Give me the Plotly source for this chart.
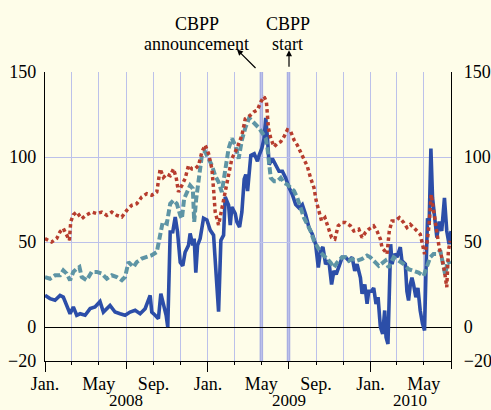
import numpy as np
import pandas as pd
import plotly.graph_objects as go

# ---- data: months elapsed since 1 Jan 2008, and spread values ----
blue_t = [0.00, 0.37, 0.74, 1.11, 1.35, 1.60, 1.85, 2.09, 2.34, 2.59, 2.96, 3.33, 3.69, 4.06, 4.31,
          4.80, 5.17, 5.54, 5.91, 6.28, 6.65, 7.02, 7.39, 7.76, 7.88, 8.13, 8.37, 8.55, 8.74, 8.94,
          9.06, 9.24, 9.43, 9.61, 9.78, 9.98, 10.17, 10.34, 10.59, 10.71, 10.91, 11.01, 11.13, 11.26,
          11.45, 11.70, 11.95, 12.19, 12.44, 12.64, 12.81, 12.98, 13.18, 13.30, 13.55, 13.67, 13.79,
          14.04, 14.16, 14.36, 14.53, 14.70, 14.82, 14.95, 15.19, 15.44, 15.68, 15.80, 16.00, 16.17,
          16.29, 16.42, 16.54, 16.78, 17.03, 17.27, 17.52, 17.76, 18.01, 18.25, 18.50, 18.75, 18.99,
          19.24, 19.48, 19.73, 19.97, 20.17, 20.34, 20.51, 20.71, 20.95, 21.15, 21.32, 21.49, 21.69,
          21.93, 22.18, 22.42, 22.67, 22.86, 23.03, 23.28, 23.40, 23.60, 23.77, 23.89, 24.09, 24.26,
          24.43, 24.58, 24.75, 24.92, 25.07, 25.17, 25.31, 25.41, 25.51, 25.61, 25.80, 25.98, 26.22,
          26.34, 26.59, 26.71, 26.83, 26.96, 27.08, 27.20, 27.37, 27.52, 27.69, 27.86, 28.01, 28.11,
          28.23, 28.35, 28.48, 28.60, 28.75, 28.92, 29.09, 29.28, 29.48, 29.65, 29.82, 29.97]
blue_v = [18.6, 16.7, 15.7, 18.6, 17.6, 12.7, 7.8, 11.8, 6.9, 7.8, 6.9, 10.8, 11.8, 15.0, 8.8,
          12.7, 8.8, 7.8, 6.9, 8.8, 9.8, 7.8, 10.8, 18.6, 8.8, 6.9, 4.9, 19.6, 12.7, 6.9,
          0.0, 55.9, 56.0, 64.7, 56.0, 38.0, 36.0, 44.0, 48.0, 55.0, 48.0, 52.0, 32.0, 48.0,
          52.0, 64.0, 63.0, 57.0, 54.0, 32.0, 9.0, 51.0, 54.0, 76.5, 71.6, 60.0, 70.6,
          66.7, 61.8, 58.8, 67.6, 87.0, 89.7, 80.0, 101, 102, 97.5, 101, 105, 111,
          123, 111, 95.5, 99, 95.5, 91.6, 91.6, 87.7, 82, 78, 72, 70, 72,
          66, 58.5, 54.6, 48.7, 35, 45, 47, 37, 39, 25, 33, 31, 35,
          41, 41, 39, 41, 33, 37, 29, 19.5, 25, 13.6, 21, 21, 23,
          13.6, 17.5, 0, -4, 9.7, -6, -10, 31, 48.7, 37, 43, 41, 47,
          39, 37, 21, 15.6, 25, 29, 25, 17.5, 23, 9.7, 2, -2, 31,
          64, 60, 105, 76, 64, 52.6, 62, 56.5, 76, 56.5, 48.7, 56.5]

teal_t = [0.00, 0.37, 0.74, 1.11, 1.35, 1.60, 1.85, 2.09, 2.34, 2.54, 2.71, 3.08, 3.45, 3.82, 4.19,
          4.56, 4.93, 5.30, 5.67, 5.91, 6.16, 6.53, 6.77, 7.14, 7.51, 7.88, 8.25, 8.50, 8.69, 8.99,
          9.24, 9.48, 9.73, 9.98, 10.10, 10.27, 10.47, 10.71, 10.91, 11.01, 11.16, 11.33, 11.58,
          11.82, 12.07, 12.32, 12.56, 12.81, 13.05, 13.30, 13.55, 13.79, 14.04, 14.29, 14.53, 14.78,
          15.07, 15.31, 15.56, 15.80, 16.05, 16.29, 16.42, 16.54, 16.66, 16.91, 17.15, 17.40, 17.64,
          17.89, 18.13, 18.38, 18.62, 18.87, 19.11, 19.36, 19.60, 19.85, 20.09, 20.34, 20.71, 21.07,
          21.32, 21.56, 21.93, 22.18, 22.42, 22.67, 23.03, 23.40, 23.77, 24.01, 24.38, 24.63, 25.12,
          25.36, 25.73, 26.10, 26.47, 26.83, 27.20, 27.57, 27.94, 28.18, 28.43, 28.67, 28.92, 29.17,
          29.41, 29.53, 29.73, 29.90]
teal_v = [29.4, 28.4, 30.4, 30.4, 33.3, 31.4, 27.5, 32.4, 34.3, 35.3, 29.4, 27.5, 32.4, 32.4, 31.4,
          28.4, 30.4, 29.4, 27.5, 29.4, 38.2, 35.3, 38.2, 40.2, 41.2, 42.2, 44.1, 55.9, 61.8, 60.8,
          72.5, 74.5, 72.5, 65.7, 63.7, 75.5, 79.4, 83.3, 81.4, 61.8, 75.5, 87.3, 101,
          103, 99, 95, 89, 85.3, 79.4, 91, 105, 111, 107, 99, 110, 117,
          123, 121, 119, 117, 114, 111, 105, 93.6, 87.7, 85.8, 85.8, 87.7, 84.8,
          83.8, 81.9, 80, 76, 70, 64.3, 60.4, 56.5, 50.7, 46.8, 43.9, 41, 38,
          35, 38, 41, 41, 39, 40, 39, 40, 42, 41, 38, 36, 39,
          35, 41, 39, 37, 34, 33, 32, 30, 35, 41, 43, 43, 45,
          37, 31, 39, 37]

red_t = [0.00, 0.25, 0.49, 0.86, 1.11, 1.35, 1.60, 1.80, 1.90, 2.09, 2.34, 2.71, 3.08, 3.45, 3.82,
         4.19, 4.56, 4.93, 5.30, 5.67, 6.03, 6.40, 6.77, 7.14, 7.51, 7.88, 8.25, 8.50, 8.74, 8.99,
         9.24, 9.48, 9.68, 9.85, 10.10, 10.34, 10.59, 10.84, 11.08, 11.33, 11.58, 11.82, 12.07,
         12.32, 12.44, 12.56, 12.81, 13.05, 13.30, 13.55, 13.79, 14.16, 14.53, 14.78, 15.15, 15.44,
         15.68, 15.93, 16.17, 16.34, 16.42, 16.49, 16.66, 16.91, 17.15, 17.40, 17.64, 17.89, 18.13,
         18.38, 18.62, 18.87, 19.11, 19.36, 19.60, 19.85, 20.02, 20.22, 20.41, 20.66, 20.90, 21.15,
         21.39, 21.64, 21.93, 22.18, 22.54, 22.79, 23.16, 23.40, 23.65, 23.89, 24.26, 24.50, 24.75,
         24.87, 25.07, 25.24, 25.41, 25.61, 25.85, 26.15, 26.47, 26.71, 26.96, 27.20, 27.45, 27.69,
         27.86, 28.01, 28.18, 28.35, 28.50, 28.62, 28.75, 28.92, 29.09, 29.28, 29.48, 29.65, 29.77,
         29.90]
red_v = [52, 51, 50, 52, 56, 58, 54, 51, 62, 66, 67.6, 63.7, 66, 67.6, 66.7,
         67.6, 65.7, 67.6, 65.7, 64.7, 68.6, 71.6, 72.5, 76.5, 78.4, 77.5, 79.4, 93, 88, 90,
         89, 93, 88, 79.4, 83.3, 87.3, 95, 93, 93, 95, 103, 107, 102,
         93, 81, 67.6, 60, 69.6, 79.4, 89, 99, 105, 112.7, 122.5, 124.5, 126.7,
         127.7, 132.5, 135.5, 132.5, 126.7, 117, 111, 106, 108, 109, 112, 116, 115,
         110, 107, 103, 99.4, 94.5, 87.7, 81.9, 74, 68, 62.4, 64.3, 58.5, 52.6,
         51.7, 59.5, 61.4, 61.4, 59.5, 56.5, 57.5, 52.6, 55.6, 57.5, 59.5, 56.5, 51.7,
         46.8, 44.8, 42.9, 56.5, 62.4, 62.4, 64.3, 61.4, 58.5, 60.4, 58.5, 56.5, 54.6,
         48.7, 42.9, 48.7, 60.4, 78, 72, 66.3, 56.5, 46.8, 41, 33, 23.4, 44.8,
         50.7]

tick_dates = ["2008-01-01", "2008-03-01", "2008-05-01", "2008-07-01", "2008-09-01", "2008-11-01",
              "2009-01-01", "2009-03-01", "2009-05-01", "2009-07-01", "2009-09-01", "2009-11-01",
              "2010-01-01", "2010-03-01", "2010-05-01", "2010-07-01"]
tick_text = ["Jan.", "", "May", "", "Sep.", "", "Jan.", "", "May", "", "Sep.", "", "Jan.", "", "May", ""]
half_year_ticks = ["2008-01-01", "2008-07-01", "2009-01-01", "2009-07-01", "2010-01-01", "2010-07-01"]
year_ticks = ["2008-01-01", "2009-01-01", "2010-01-01"]
year_labels = ["2008", "2009", "2010"]
year_label_pos = ["2008-07-01", "2009-07-01", "2010-04-01"]
event_dates = ["2009-05-01", "2009-07-01"]
y_ticks = [-20, 0, 50, 100, 150]
y_tick_text = ["\u221220", "0", "50", "100", "150"]

START = pd.Timestamp("2008-01-01")


def to_dates(t):
    return START + pd.to_timedelta(np.asarray(t) * 30.4375, unit="D")


BG = "#fefde9"
GRID = "#bcc1ea"
FONT = "Liberation Serif"
FS = 18

fig = go.Figure()
fig.add_trace(go.Scatter(x=to_dates(blue_t), y=blue_v, mode="lines", name="Series 1",
                         line=dict(color="#2c4ea8", width=3.6)))
fig.add_trace(go.Scatter(x=to_dates(teal_t), y=teal_v, mode="lines", name="Series 2",
                         line=dict(color="#5e95a5", width=4, dash="7px,3px")))
fig.add_trace(go.Scatter(x=to_dates(red_t), y=red_v, mode="lines", name="Series 3",
                         line=dict(color="#b73d2e", width=3.5, dash="3.5px,3px")))
# helper (empty) traces so the extra tick axes are created
fig.add_trace(go.Scatter(x=[], y=[], xaxis="x2", yaxis="y", showlegend=False))
fig.add_trace(go.Scatter(x=[], y=[], xaxis="x3", yaxis="y", showlegend=False))
fig.add_trace(go.Scatter(x=[], y=[], xaxis="x", yaxis="y2", showlegend=False))

xr = ["2008-01-01", "2010-07-01"]
yr = [-20, 150]

for d in event_dates:
    fig.add_shape(type="line", xref="x", yref="paper", x0=d, x1=d, y0=0, y1=1,
                  line=dict(color="#a9afe2", width=3.5), layer="below")

fig.update_layout(
    width=491, height=410,
    margin=dict(l=45, r=40, t=72, b=49, autoexpand=False),
    paper_bgcolor=BG, plot_bgcolor=BG,
    showlegend=False,
    font=dict(family=FONT, size=FS, color="black"),
    xaxis=dict(type="date", range=xr, tickvals=tick_dates, ticktext=tick_text,
               ticks="outside", ticklen=3, tickwidth=1, tickcolor="black",
               showgrid=True, gridcolor=GRID, gridwidth=1.3, automargin=False,
               showline=True, linecolor="black", linewidth=1.3, zeroline=False,
               tickfont=dict(family=FONT, size=FS), ticklabelstandoff=3),
    xaxis2=dict(type="date", range=xr, overlaying="x", anchor="y", side="bottom",
                tickvals=half_year_ticks, ticks="outside", ticklen=7, tickwidth=1,
                tickcolor="black", showticklabels=False, showgrid=False, automargin=False,
                showline=False, zeroline=False),
    xaxis3=dict(type="date", range=xr, overlaying="x", anchor="y", side="bottom",
                tickvals=year_ticks, ticks="outside", ticklen=10, tickwidth=1,
                tickcolor="black", showticklabels=False, showgrid=False, automargin=False,
                showline=False, zeroline=False),
    yaxis=dict(range=yr, tickvals=y_ticks, ticktext=y_tick_text,
               showgrid=True, gridcolor=GRID, gridwidth=1.3, automargin=False,
               zeroline=True, zerolinecolor="black", zerolinewidth=1.3,
               showline=True, linecolor="black", linewidth=1.3, ticks="",
               ticklabelstandoff=4, tickfont=dict(family=FONT, size=FS)),
    yaxis2=dict(range=yr, tickvals=y_ticks, ticktext=y_tick_text,
                overlaying="y", side="right", anchor="x", automargin=False,
                showgrid=False, zeroline=False,
                showline=True, linecolor="black", linewidth=1.3, ticks="",
                ticklabelstandoff=8, tickfont=dict(family=FONT, size=FS)),
)

for pos, lab in zip(year_label_pos, year_labels):
    fig.add_annotation(x=pos, xref="x", y=0, yref="paper", text=lab, showarrow=False,
                       yanchor="top", yshift=-28, font=dict(family=FONT, size=17))

# event labels and arrows
fig.add_annotation(x=0.374, xref="paper", y=1.165, yref="paper", text="CBPP", showarrow=False,
                   yanchor="middle", font=dict(family=FONT, size=FS))
fig.add_annotation(x=0.374, xref="paper", y=1.098, yref="paper", text="announcement",
                   showarrow=False, yanchor="middle", font=dict(family=FONT, size=FS))
fig.add_annotation(x=0.598, xref="paper", y=1.165, yref="paper", text="CBPP", showarrow=False,
                   yanchor="middle", font=dict(family=FONT, size=FS))
fig.add_annotation(x=0.598, xref="paper", y=1.098, yref="paper", text="start",
                   showarrow=False, yanchor="middle", font=dict(family=FONT, size=FS))
fig.add_annotation(x=0.473, xref="paper", y=1.078, yref="paper", text="", showarrow=True,
                   ax=20, ay=20, arrowhead=2, arrowsize=1, arrowwidth=1.2, arrowcolor="black")
fig.add_annotation(x=0.601, xref="paper", y=1.075, yref="paper", text="", showarrow=True,
                   ax=0, ay=18, arrowhead=2, arrowsize=1, arrowwidth=1.2, arrowcolor="black")

# remove the browser's default page margin so the 491x410 figure fills the window exactly
fig.write_html("out.html",
               config={"displayModeBar": False},
               post_script="document.body.style.margin='0px';"
                           "document.body.style.overflow='hidden';"
                           "document.body.style.background='" + BG + "';")
